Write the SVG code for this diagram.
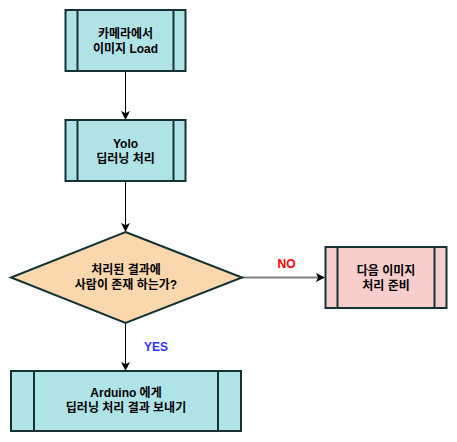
<svg xmlns="http://www.w3.org/2000/svg" width="457" height="442" viewBox="0 0 457 442">
<style>
.proc{fill:#b0e3e6;stroke:#143232;stroke-width:2}
.pink{fill:#f8cecc;stroke:#143232;stroke-width:2}
.dia{fill:#fad7ac;stroke:#143232;stroke-width:2}
.t{font-family:"Liberation Sans","Noto Sans CJK KR",sans-serif;font-weight:bold;font-size:12px;text-anchor:middle;fill:#000}
.edge{fill:none;stroke:#000;stroke-width:1}
</style>
<defs>
<marker id="arr" viewBox="0 0 10 10" refX="9" refY="5" markerWidth="9" markerHeight="9" markerUnits="userSpaceOnUse" orient="auto">
<path d="M0,0 L10,5 L0,10 L2.5,5 Z" fill="#000"/>
</marker>
</defs>
<rect width="457" height="442" fill="#fff"/>
<g id="connectors">
<line class="edge" x1="125.5" y1="71" x2="125.5" y2="119" marker-end="url(#arr)"/>
<line class="edge" x1="125.5" y1="181" x2="125.5" y2="231" marker-end="url(#arr)"/>
<line x1="242" y1="277.5" x2="324" y2="277.5" stroke="#808080" stroke-width="2" marker-end="url(#arr)"/>
<line class="edge" x1="125.5" y1="323" x2="125.5" y2="370" marker-end="url(#arr)"/>
<text class="t" x="286.5" y="268" fill="#ff0000" style="fill:#ff0000">NO</text>
<text class="t" x="156" y="351" style="fill:#3333ff">YES</text>
</g>
<g id="load">
<rect class="proc" x="65.5" y="10" width="120" height="61"/>
<line class="proc" x1="77.5" y1="10" x2="77.5" y2="71"/>
<line class="proc" x1="173.5" y1="10" x2="173.5" y2="71"/>
<text class="t" x="125.5" y="38">카메라에서</text>
<text class="t" x="125.5" y="53">이미지 Load</text>
</g>
<g id="yolo">
<rect class="proc" x="65.5" y="120" width="120" height="61"/>
<line class="proc" x1="77.5" y1="120" x2="77.5" y2="181"/>
<line class="proc" x1="173.5" y1="120" x2="173.5" y2="181"/>
<text class="t" x="125.5" y="148">Yolo</text>
<text class="t" x="125.5" y="163">딥러닝 처리</text>
</g>
<g id="decision">
<polygon class="dia" points="125.5,232 242,277.5 125.5,323 11,277.5"/>
<text class="t" x="126" y="274">처리된 결과에</text>
<text class="t" x="126" y="289">사람이 존재 하는가?</text>
</g>
<g id="next">
<rect class="pink" x="325.5" y="247" width="121" height="61"/>
<line class="pink" x1="337.5" y1="247" x2="337.5" y2="308"/>
<line class="pink" x1="434.5" y1="247" x2="434.5" y2="308"/>
<text class="t" x="386" y="275">다음 이미지</text>
<text class="t" x="386" y="290">처리 준비</text>
</g>
<g id="arduino">
<rect class="proc" x="11" y="371" width="230" height="60"/>
<line class="proc" x1="34" y1="371" x2="34" y2="431"/>
<line class="proc" x1="218" y1="371" x2="218" y2="431"/>
<text class="t" x="126" y="397">Arduino 에게</text>
<text class="t" x="126" y="412">딥러닝 처리 결과 보내기</text>
</g>
</svg>
